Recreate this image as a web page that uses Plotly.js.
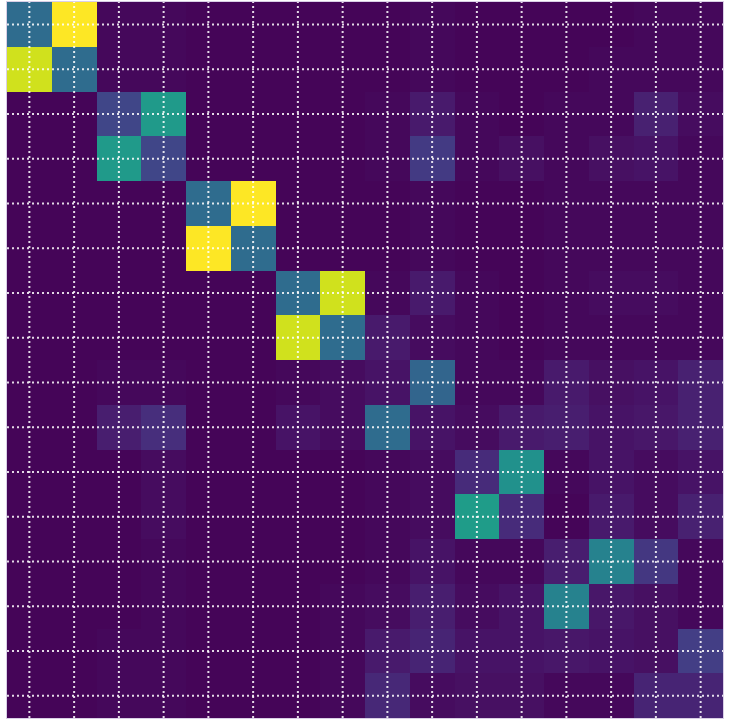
<!DOCTYPE html>
<html>
<head>
<meta charset="utf-8">
<script src="https://cdn.plot.ly/plotly-3.0.1.min.js"></script>
<style>html,body{margin:0;padding:0;background:#fff;}#chart{width:730px;height:726px;}</style>
</head>
<body>
<div id="chart"></div>
<script>
// cell indices (columns and rows)
const idx = [0, 1, 2, 3, 4, 5, 6, 7, 8, 9, 10, 11, 12, 13, 14, 15];

// matrix rows, top to bottom
const row0  = [0.35, 1.00, 0.02, 0.02, 0.01, 0.01, 0.01, 0.01, 0.01, 0.02, 0.01, 0.01, 0.01, 0.01, 0.02, 0.02];
const row1  = [0.93, 0.35, 0.02, 0.02, 0.01, 0.01, 0.01, 0.01, 0.01, 0.02, 0.01, 0.01, 0.01, 0.02, 0.02, 0.02];
const row2  = [0.01, 0.01, 0.21, 0.54, 0.01, 0.01, 0.01, 0.01, 0.02, 0.07, 0.02, 0.01, 0.02, 0.02, 0.09, 0.03];
const row3  = [0.01, 0.01, 0.54, 0.21, 0.01, 0.01, 0.01, 0.01, 0.02, 0.17, 0.02, 0.04, 0.02, 0.04, 0.05, 0.02];
const row4  = [0.01, 0.01, 0.01, 0.01, 0.35, 1.00, 0.01, 0.01, 0.01, 0.02, 0.01, 0.01, 0.02, 0.02, 0.02, 0.02];
const row5  = [0.01, 0.01, 0.01, 0.01, 1.00, 0.35, 0.01, 0.01, 0.01, 0.02, 0.01, 0.01, 0.02, 0.02, 0.02, 0.02];
const row6  = [0.01, 0.01, 0.01, 0.01, 0.01, 0.01, 0.35, 0.93, 0.02, 0.07, 0.02, 0.01, 0.02, 0.03, 0.03, 0.02];
const row7  = [0.01, 0.01, 0.01, 0.01, 0.01, 0.01, 0.93, 0.35, 0.07, 0.03, 0.02, 0.01, 0.02, 0.02, 0.02, 0.02];
const row8  = [0.01, 0.01, 0.02, 0.02, 0.01, 0.01, 0.02, 0.03, 0.05, 0.32, 0.02, 0.02, 0.07, 0.04, 0.05, 0.09];
const row9  = [0.01, 0.01, 0.08, 0.13, 0.01, 0.01, 0.05, 0.03, 0.35, 0.05, 0.03, 0.07, 0.08, 0.05, 0.06, 0.09];
const row10 = [0.01, 0.01, 0.01, 0.03, 0.01, 0.01, 0.01, 0.01, 0.02, 0.03, 0.12, 0.50, 0.02, 0.05, 0.03, 0.05];
const row11 = [0.01, 0.01, 0.01, 0.03, 0.01, 0.01, 0.01, 0.01, 0.02, 0.03, 0.55, 0.12, 0.01, 0.07, 0.03, 0.09];
const row12 = [0.01, 0.01, 0.01, 0.02, 0.01, 0.01, 0.01, 0.01, 0.02, 0.05, 0.02, 0.02, 0.08, 0.44, 0.16, 0.02];
const row13 = [0.01, 0.01, 0.01, 0.02, 0.01, 0.01, 0.01, 0.02, 0.03, 0.08, 0.03, 0.05, 0.44, 0.06, 0.04, 0.02];
const row14 = [0.01, 0.01, 0.02, 0.02, 0.01, 0.01, 0.01, 0.02, 0.07, 0.10, 0.05, 0.05, 0.06, 0.05, 0.04, 0.18];
const row15 = [0.01, 0.01, 0.02, 0.02, 0.01, 0.01, 0.01, 0.02, 0.11, 0.03, 0.04, 0.04, 0.02, 0.02, 0.10, 0.10];

const z = [row0, row1, row2, row3, row4, row5, row6, row7,
           row8, row9, row10, row11, row12, row13, row14, row15];

const heat = {
  type: 'heatmap',
  x: idx, y: idx, z: z,
  colorscale: 'Viridis', zmin: 0, zmax: 1,
  showscale: false, hoverinfo: 'skip', xgap: 0, ygap: 0
};

// dotted white grid lines at every cell centre, drawn above the heatmap
const gridStyle = {color: 'rgba(255,255,255,0.85)', width: 2, dash: '2px,3px'};
const shapes = [];
idx.forEach(function (v) {
  shapes.push({type: 'line', layer: 'above', xref: 'x', yref: 'paper', x0: v, x1: v, y0: 0, y1: 1, line: gridStyle});
  shapes.push({type: 'line', layer: 'above', xref: 'paper', yref: 'y', x0: 0, x1: 1, y0: v, y1: v, line: gridStyle});
});

const axisCommon = {
  showgrid: false, zeroline: false, showticklabels: false, ticks: '',
  showline: true, mirror: true, linecolor: '#d9cfe6', linewidth: 1
};

const layout = {
  width: 730, height: 726,
  margin: {l: 7, r: 7, t: 2, b: 8, pad: 0},
  paper_bgcolor: '#ffffff', plot_bgcolor: '#ffffff',
  xaxis: Object.assign({range: [-0.5, 15.5]}, axisCommon),
  yaxis: Object.assign({range: [15.5, -0.5]}, axisCommon),
  shapes: shapes,
  showlegend: false
};

Plotly.newPlot('chart', [heat], layout, {staticPlot: true, displayModeBar: false});
</script>
</body>
</html>
